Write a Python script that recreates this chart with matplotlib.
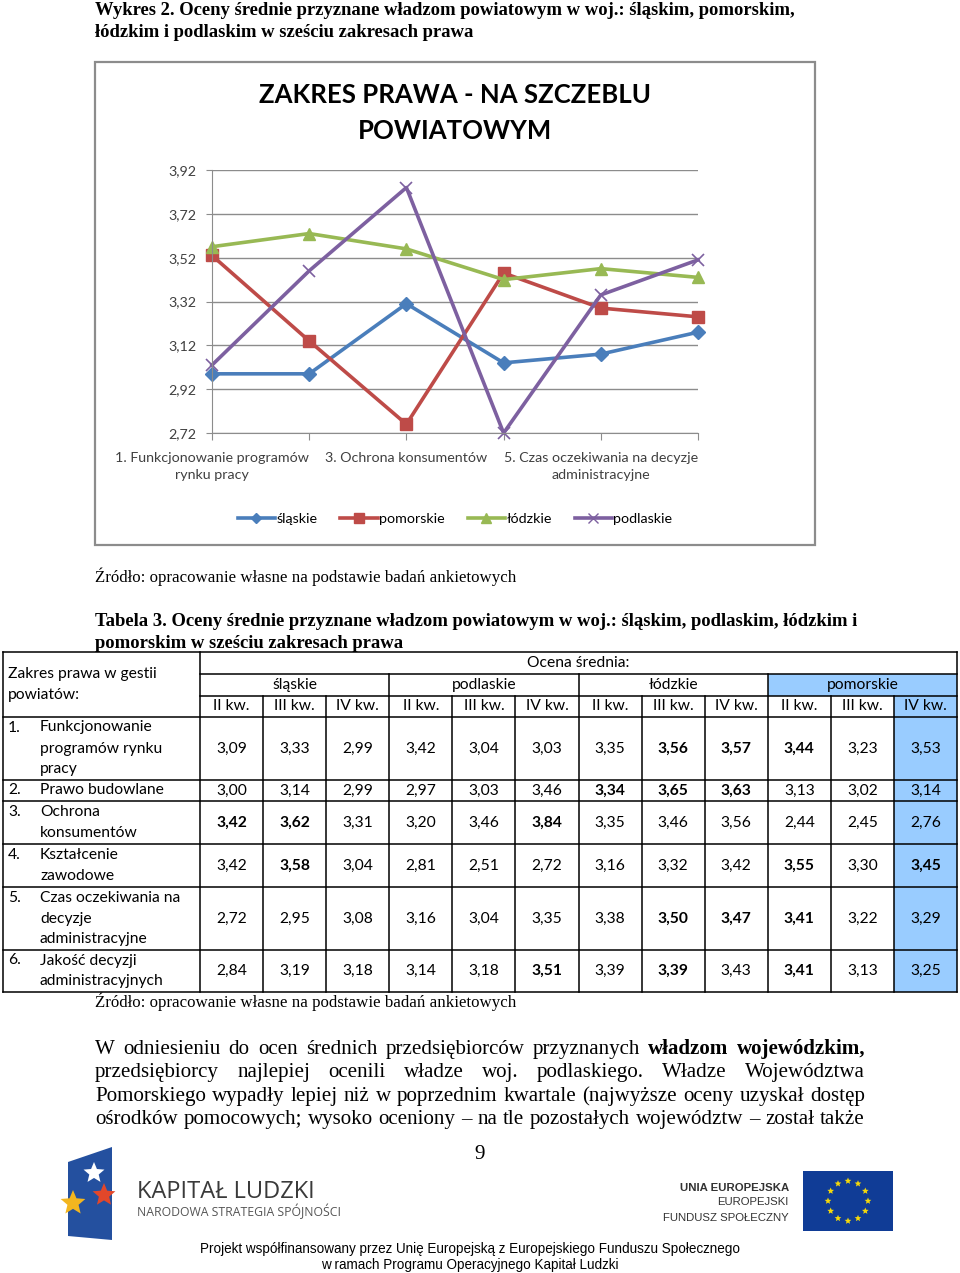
import matplotlib
matplotlib.use('Agg')
import numpy as np
import matplotlib.pyplot as plt
from matplotlib.patches import Rectangle, Polygon
from matplotlib.lines import Line2D

W, H = 960, 1273
CAL = 'Lato'
SERIF = 'Liberation Serif'
ARIAL = 'Liberation Sans'

# ---- data ----
chart_title = "ZAKRES PRAWA - NA SZCZEBLU\nPOWIATOWYM"
chart_labels = ["1. Funkcjonowanie programów\nrynku pracy", "2. Prawo budowlane",
                "3. Ochrona konsumentów", "4. Kształcenie zawodowe",
                "5. Czas oczekiwania na decyzje\nadministracyjne",
                "6. Jakość decyzji administracyjnych"]
y_ticks = [2.72, 2.92, 3.12, 3.32, 3.52, 3.72, 3.92]

row_labels = ["Funkcjonowanie\nprogramów rynku\npracy", "Prawo budowlane", "Ochrona\nkonsumentów",
              "Kształcenie\nzawodowe", "Czas oczekiwania na\ndecyzje\nadministracyjne",
              "Jakość decyzji\nadministracyjnych"]
table_regions = ["śląskie", "podlaskie", "łódzkie", "pomorskie"]
quarters = ["II kw.", "III kw.", "IV kw."]

slaskie = [[3.09, 3.33, 2.99], [3.00, 3.14, 2.99], [3.42, 3.62, 3.31],
           [3.42, 3.58, 3.04], [2.72, 2.95, 3.08], [2.84, 3.19, 3.18]]
podlaskie = [[3.42, 3.04, 3.03], [2.97, 3.03, 3.46], [3.20, 3.46, 3.84],
             [2.81, 2.51, 2.72], [3.16, 3.04, 3.35], [3.14, 3.18, 3.51]]
lodzkie = [[3.35, 3.56, 3.57], [3.34, 3.65, 3.63], [3.35, 3.46, 3.56],
           [3.16, 3.32, 3.42], [3.38, 3.50, 3.47], [3.39, 3.39, 3.43]]
pomorskie = [[3.44, 3.23, 3.53], [3.13, 3.02, 3.14], [2.44, 2.45, 2.76],
             [3.55, 3.30, 3.45], [3.41, 3.22, 3.29], [3.41, 3.13, 3.25]]
# (row, column) of values printed in bold
bold_cells = {(0, 7), (0, 8), (0, 9), (1, 6), (1, 7), (1, 8), (2, 0), (2, 1), (2, 5),
              (3, 1), (3, 9), (3, 11), (4, 7), (4, 8), (4, 9), (5, 5), (5, 7), (5, 9)}

# chart shows the IV quarter
chart_series = [("śląskie", [r[2] for r in slaskie]),
                ("pomorskie", [r[2] for r in pomorskie]),
                ("łódzkie", [r[2] for r in lodzkie]),
                ("podlaskie", [r[2] for r in podlaskie])]

heading1 = ["Wykres 2. Oceny średnie przyznane władzom powiatowym w woj.: śląskim, pomorskim,",
            "łódzkim i podlaskim w sześciu zakresach prawa"]
heading2 = ["Tabela 3. Oceny średnie przyznane władzom powiatowym w woj.: śląskim, podlaskim, łódzkim i",
            "pomorskim w sześciu zakresach prawa"]
source = "Źródło: opracowanie własne na podstawie badań ankietowych"
body = ["W odniesieniu do ocen średnich przedsiębiorców przyznanych władzom wojewódzkim,",
        "przedsiębiorcy najlepiej ocenili władze woj. podlaskiego. Władze Województwa",
        "Pomorskiego wypadły lepiej niż w poprzednim kwartale (najwyższe oceny uzyskał dostęp",
        "ośrodków pomocowych; wysoko oceniony – na tle pozostałych województw – został także"]
bold_words = {(0, "władzom"), (0, "wojewódzkim,")}
footer = ["Projekt współfinansowany przez Unię Europejską z Europejskiego Funduszu Społecznego",
          "w ramach Programu Operacyjnego Kapitał Ludzki"]

# ---- figure ----
fig = plt.figure(figsize=(W / 100, H / 100), dpi=100)
page = fig.add_axes([0, 0, 1, 1])
page.set_xlim(0, W)
page.set_ylim(H, 0)
page.axis('off')
rend = fig.canvas.get_renderer()


def width_of(txt, **kw):
    t = page.text(0, 0, txt, **kw)
    w = t.get_window_extent(renderer=rend).width
    t.remove()
    return w


def fit(txt, target, **kw):
    return 10 * target / width_of(txt, fontsize=10, **kw)


def fmt(v):
    return f"{v:.2f}".replace('.', ',')


# headings
hsize = fit(heading2[0], 765, family=SERIF, fontweight='bold')
for txt, y in zip(heading1, [15, 37]):
    page.text(95, y, txt, family=SERIF, fontweight='bold', fontsize=hsize, va='baseline')
for txt, y in zip(heading2, [626, 648]):
    page.text(95, y, txt, family=SERIF, fontweight='bold', fontsize=hsize, va='baseline')
ssize = fit(source, 422, family=SERIF)
page.text(95, 582, source, family=SERIF, fontsize=ssize, va='baseline')
page.text(95, 1007, source, family=SERIF, fontsize=ssize, va='baseline')

# chart frame and title
page.add_patch(Rectangle((95, 62), 720, 483, facecolor='white', edgecolor='#8c8c8c', lw=1.6))
tsize = fit("ZAKRES PRAWA - NA SZCZEBLU", 390, family=CAL, fontweight='bold')
for txt, y in zip(chart_title.split('\n'), [95, 131]):
    page.text(455, y, txt, family=CAL, fontweight='bold', fontsize=tsize, ha='center', va='center')

csize = fit("1. Funkcjonowanie programów", 195, family=CAL)

ax = fig.add_axes([212 / W, 1 - 433 / H, 486 / W, 263 / H])
ax.set_facecolor('none')
styles = {"śląskie": ('#4a7ebb', 'D', 7),
          "pomorskie": ('#be4b48', 's', 8.5),
          "łódzkie": ('#98b954', '^', 9),
          "podlaskie": ('#7d60a0', 'x', 9)}
x = np.arange(len(chart_labels))
for name, vals in chart_series:
    col, mk, ms = styles[name]
    ax.plot(x, vals, color=col, lw=2.6, marker=mk, ms=ms, mew=1.2 if mk == 'x' else 1,
            mec=col, mfc=col, clip_on=False, label=name)
ax.set_xlim(0, len(chart_labels) - 1)
ax.set_ylim(y_ticks[0], y_ticks[-1])
ax.set_yticks(y_ticks)
ax.set_yticklabels([fmt(v) for v in y_ticks], family=CAL, fontsize=csize, color='#404040')
ax.set_xticks(x)
ax.set_xticklabels(chart_labels, family=CAL, fontsize=csize, color='#404040', linespacing=1.45)
for i, lab in enumerate(ax.get_xticklabels()):
    lab.set_visible(i % 2 == 0)
ax.yaxis.grid(True, color='#8c8c8c', lw=1)
ax.set_axisbelow(True)
for s in ['top', 'right']:
    ax.spines[s].set_visible(False)
for s in ['left', 'bottom']:
    ax.spines[s].set_color('#8c8c8c')
ax.tick_params(axis='x', length=5, color='#8c8c8c', pad=9)
ax.tick_params(axis='y', length=4, color='#8c8c8c', pad=7)
handles = [Line2D([], [], color=styles[n][0], lw=2.6, marker=styles[n][1], ms=styles[n][2] * 0.8,
                  mec=styles[n][0], mfc=styles[n][0]) for n, _ in chart_series]
fig.legend(handles, [n for n, _ in chart_series], loc='center', bbox_to_anchor=(455 / W, 1 - 519 / H),
           ncol=4, frameon=False, prop={'family': CAL, 'size': csize}, handlelength=2.6,
           handletextpad=0.1, columnspacing=1.6)

# ---- table ----
col_x = [3, 200] + [200 + (957 - 200) * i / 12 for i in range(1, 13)]
row_y = [717, 780, 801, 844, 887, 950, 992]
blue = '#99ccff'
fsize = fit("Zakres prawa w gestii", 149, family=CAL)
page.add_patch(Rectangle((col_x[10], 674), col_x[13] - col_x[10], 22, color=blue, lw=0))
page.add_patch(Rectangle((col_x[12], 696), col_x[13] - col_x[12], 992 - 696, color=blue, lw=0))
lk = dict(color='black', lw=1.1)
for y in [652, 717] + row_y[1:]:
    page.plot([3, 957], [y, y], **lk)
for y in [674, 696]:
    page.plot([200, 957], [y, y], **lk)
page.plot([3, 3], [652, 992], **lk)
page.plot([200, 200], [652, 992], **lk)
page.plot([957, 957], [652, 992], **lk)
for i in range(1, 12):
    top = 674 if i % 3 == 0 else 696
    page.plot([col_x[i + 1]] * 2, [top, 992], **lk)

page.text(8, 674, "Zakres prawa w gestii", family=CAL, fontsize=fsize, va='center')
page.text(8, 695, "powiatów:", family=CAL, fontsize=fsize, va='center')
page.text((200 + 957) / 2, 663, "Ocena średnia:", family=CAL, fontsize=fsize, ha='center', va='center')
for r, reg in enumerate(table_regions):
    cx = (col_x[1 + 3 * r] + col_x[4 + 3 * r]) / 2
    page.text(cx, 685, reg, family=CAL, fontsize=fsize, ha='center', va='center')
    for q, qt in enumerate(quarters):
        c = 1 + 3 * r + q
        page.text((col_x[c] + col_x[c + 1]) / 2, 706, qt, family=CAL, fontsize=fsize,
                  ha='center', va='center')

table_data = [slaskie, podlaskie, lodzkie, pomorskie]
for i, lab in enumerate(row_labels):
    cy = (row_y[i] + row_y[i + 1]) / 2
    lines = lab.split('\n')
    y0 = cy - 21 * (len(lines) - 1) / 2
    page.text(8, y0, f"{i + 1}.", family=CAL, fontsize=fsize, va='center')
    for k, ln in enumerate(lines):
        page.text(40, y0 + 21 * k, ln, family=CAL, fontsize=fsize, va='center')
    for r, reg in enumerate(table_data):
        for q in range(3):
            c = 3 * r + q
            page.text((col_x[c + 1] + col_x[c + 2]) / 2, cy, fmt(reg[i][q]), family=CAL,
                      fontsize=fsize, ha='center', va='center',
                      fontweight='bold' if (i, c) in bold_cells else 'normal')

# ---- body text (justified, words on a common baseline) ----
bsize = fit(body[2], 762, family=SERIF)
for li, (line, y) in enumerate(zip(body, [1054, 1077, 1101, 1124])):
    items, total = [], 0
    for w in line.split(' '):
        t = page.text(95, y, w, family=SERIF, fontsize=bsize, va='baseline',
                      fontweight='bold' if (li, w) in bold_words else 'normal')
        wd = t.get_window_extent(renderer=rend).width
        items.append((t, wd))
        total += wd
    gap = (865 - 95 - total) / (len(items) - 1)
    xp = 95
    for t, wd in items:
        t.set_x(xp)
        xp += wd + gap
page.text(480, 1159, "9", family=SERIF, fontsize=bsize, ha='center', va='baseline')


# ---- logos ----
def star(cx, cy, r):
    ang = np.pi / 2 + np.arange(10) * np.pi / 5
    rad = np.where(np.arange(10) % 2 == 0, r, r * 0.45)
    return np.column_stack([cx + rad * np.cos(ang), cy - rad * np.sin(ang)])


page.add_patch(Polygon([(68, 1162), (112, 1147), (112, 1240), (68, 1236)], color='#24509f', lw=0))
page.add_patch(Polygon(star(73, 1203, 13), color='#f3b61f', lw=0))
page.add_patch(Polygon(star(104, 1195, 12), color='#e2472a', lw=0))
page.add_patch(Polygon(star(94, 1173, 11), color='white', lw=0))
ks = fit("KAPITAŁ LUDZKI", 178, family='Open Sans')
page.text(137, 1192, "KAPITAŁ LUDZKI", family='Open Sans', fontsize=ks, color='#3a3a3a', va='center')
ns = fit("NARODOWA STRATEGIA SPÓJNOŚCI", 203, family='Open Sans')
page.text(137, 1211, "NARODOWA STRATEGIA SPÓJNOŚCI", family='Open Sans', fontsize=ns,
          color='#555555', va='center')

es = fit("FUNDUSZ SPOŁECZNY", 127, family=ARIAL)
page.text(789, 1188, "UNIA EUROPEJSKA", family=ARIAL, fontweight='bold', fontsize=es, color='#333333',
          ha='right', va='center')
page.text(789, 1202, "EUROPEJSKI", family=ARIAL, fontsize=es, color='#333333', ha='right', va='center')
page.text(789, 1218, "FUNDUSZ SPOŁECZNY", family=ARIAL, fontsize=es, color='#333333', ha='right', va='center')
page.add_patch(Rectangle((803, 1171), 90, 60, color='#103c96', lw=0))
for a in np.arange(12) * np.pi / 6:
    page.add_patch(Polygon(star(848 + 20 * np.cos(a), 1201 + 20 * np.sin(a), 3.5), color='#f5d90a', lw=0))

fs = fit(footer[0], 543, family=ARIAL)
page.text(470, 1249, footer[0], family=ARIAL, fontsize=fs, ha='center', va='center')
page.text(470, 1265, footer[1], family=ARIAL, fontsize=fs, ha='center', va='center')

fig.savefig('out.png', dpi=100)
